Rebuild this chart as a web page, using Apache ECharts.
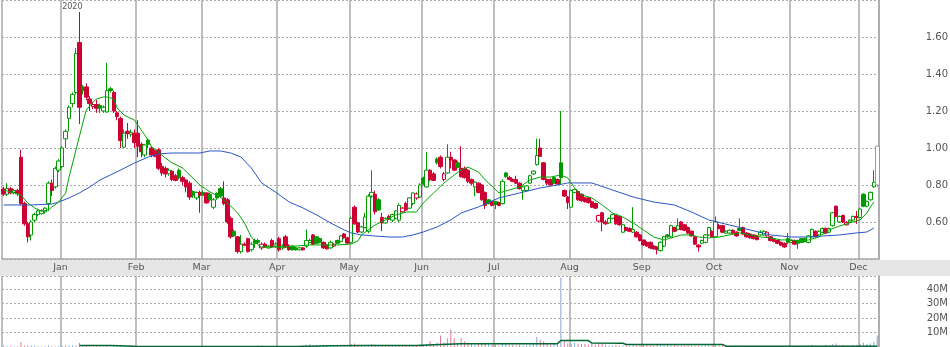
<!DOCTYPE html>
<html><head><meta charset="utf-8">
<script src="https://cdn.jsdelivr.net/npm/echarts@6/dist/echarts.min.js"></script>
<style>html,body{margin:0;padding:0;background:#fff}#c{width:950px;height:347px}</style>
</head><body><div id="c"></div>
<script>
// ---- data ----
const months = ['Dec','Jan','Feb','Mar','Apr','May','Jun','Jul','Aug','Sep','Oct','Nov','Dec'];
const monthDays = [17,22,19,22,21,21,21,22,21,21,22,20,6];
const yearLabels = ['','2020','','','','','','','','','','',''];
const priceTicks = [0.60,0.80,1.00,1.20,1.40,1.60];
const volumeTicks = [10,20,30,40];
// [open, close, low, high]
const ohlc = [
[0.778,0.751,0.74,0.79],[0.75,0.78,0.74,0.81],[0.78,0.757,0.75,0.79],[0.76,0.77,0.75,0.78],[0.77,0.755,0.74,0.78],
[0.95,0.70,0.69,0.99],[0.70,0.59,0.58,0.71],[0.59,0.52,0.49,0.60],[0.53,0.60,0.50,0.61],[0.61,0.64,0.60,0.65],
[0.64,0.66,0.63,0.67],[0.645,0.66,0.64,0.67],[0.655,0.675,0.645,0.68],[0.70,0.81,0.66,0.82],[0.81,0.77,0.74,0.83],
[0.79,0.89,0.78,0.90],[0.88,0.93,0.87,0.94],[0.90,1.00,0.89,1.01],[1.05,1.09,1.00,1.10],[1.16,1.22,1.09,1.23],
[1.24,1.29,1.22,1.30],[1.30,1.51,1.29,1.54],[1.57,1.22,1.13,1.735],[1.33,1.31,1.29,1.34],[1.33,1.275,1.26,1.35],
[1.265,1.24,1.20,1.28],[1.225,1.235,1.21,1.25],[1.235,1.215,1.19,1.26],[1.23,1.215,1.19,1.24],[1.20,1.22,1.19,1.23],
[1.195,1.31,1.19,1.46],[1.32,1.31,1.30,1.33],[1.30,1.20,1.19,1.31],[1.19,1.17,1.15,1.20],[1.16,1.04,1.00,1.17],
[1.005,1.08,1.00,1.10],[1.09,1.078,1.05,1.135],[1.075,1.085,1.06,1.10],[1.08,1.03,1.00,1.10],[1.08,1.01,0.95,1.15],
[1.02,0.98,0.95,1.03],[0.962,1.016,0.95,1.02],[1.043,1.02,1.00,1.05],[1.00,0.962,0.95,1.01],[0.985,0.955,0.95,0.99],
[0.99,0.89,0.88,1.00],[0.90,0.865,0.85,0.92],[0.89,0.86,0.84,0.90],[0.86,0.88,0.85,0.89],[0.875,0.83,0.82,0.88],
[0.85,0.825,0.82,0.86],[0.88,0.84,0.83,0.89],[0.84,0.82,0.80,0.85],[0.827,0.789,0.76,0.83],[0.81,0.735,0.72,0.82],
[0.765,0.745,0.73,0.77],[0.73,0.76,0.72,0.765],[0.76,0.745,0.65,0.77],[0.76,0.745,0.74,0.77],[0.757,0.703,0.70,0.76],
[0.75,0.72,0.71,0.76],[0.68,0.72,0.67,0.73],[0.755,0.73,0.72,0.76],[0.78,0.74,0.73,0.79],[0.73,0.70,0.69,0.82],
[0.72,0.60,0.59,0.73],[0.62,0.52,0.51,0.63],[0.55,0.525,0.52,0.56],[0.52,0.44,0.43,0.525],[0.44,0.48,0.43,0.53],
[0.48,0.475,0.47,0.49],[0.51,0.44,0.435,0.515],[0.45,0.48,0.44,0.49],[0.50,0.485,0.46,0.51],[0.50,0.49,0.48,0.51],
[0.46,0.48,0.45,0.49],[0.48,0.465,0.46,0.49],[0.46,0.47,0.455,0.475],[0.50,0.465,0.46,0.51],[0.47,0.48,0.46,0.49],
[0.51,0.45,0.44,0.52],[0.46,0.47,0.45,0.48],[0.52,0.465,0.46,0.53],[0.47,0.45,0.445,0.48],[0.47,0.45,0.445,0.475],
[0.46,0.45,0.445,0.465],[0.45,0.46,0.445,0.465],[0.46,0.45,0.445,0.465],[0.47,0.50,0.46,0.56],[0.49,0.50,0.485,0.51],
[0.53,0.48,0.475,0.535],[0.52,0.485,0.48,0.525],[0.51,0.49,0.485,0.515],[0.49,0.46,0.455,0.495],[0.475,0.455,0.45,0.48],
[0.46,0.49,0.455,0.50],[0.47,0.48,0.465,0.485],[0.50,0.485,0.48,0.505],[0.495,0.525,0.49,0.53],[0.535,0.515,0.51,0.54],
[0.515,0.486,0.48,0.52],[0.49,0.62,0.485,0.63],[0.68,0.59,0.585,0.69],[0.595,0.546,0.54,0.60],[0.546,0.573,0.54,0.58],
[0.57,0.627,0.565,0.65],[0.55,0.74,0.54,0.75],[0.74,0.76,0.73,0.88],[0.75,0.655,0.64,0.77],[0.72,0.665,0.66,0.73],
[0.625,0.595,0.55,0.65],[0.595,0.62,0.59,0.625],[0.63,0.615,0.61,0.64],[0.61,0.64,0.60,0.645],[0.62,0.66,0.615,0.665],
[0.61,0.69,0.60,0.70],[0.655,0.675,0.65,0.68],[0.70,0.665,0.66,0.71],[0.675,0.73,0.67,0.735],[0.70,0.757,0.69,0.76],
[0.73,0.752,0.72,0.76],[0.735,0.80,0.73,0.81],[0.838,0.805,0.80,0.845],[0.79,0.88,0.785,0.98],[0.88,0.83,0.82,0.885],
[0.86,0.825,0.82,0.87],[0.94,0.92,0.91,0.95],[0.95,0.90,0.89,0.96],[0.83,0.86,0.82,0.87],[0.865,0.95,0.86,1.02],
[0.95,0.935,0.89,0.98],[0.935,0.88,0.875,0.94],[0.92,0.895,0.89,0.93],[0.89,0.845,0.84,1.01],[0.89,0.84,0.835,0.90],
[0.88,0.82,0.81,0.885],[0.83,0.81,0.80,0.835],[0.79,0.815,0.74,0.82],[0.81,0.76,0.755,0.815],[0.80,0.72,0.715,0.805],
[0.76,0.69,0.67,0.765],[0.72,0.70,0.695,0.725],[0.71,0.69,0.685,0.715],[0.71,0.695,0.67,0.715],[0.705,0.69,0.685,0.71],
[0.70,0.82,0.695,0.83],[0.865,0.845,0.84,0.87],[0.84,0.83,0.825,0.85],[0.83,0.82,0.815,0.835],[0.83,0.81,0.805,0.85],
[0.81,0.78,0.775,0.815],[0.77,0.79,0.72,0.795],[0.77,0.795,0.765,0.80],[0.81,0.85,0.805,0.855],[0.86,0.875,0.855,0.88],
[0.91,0.96,0.905,1.05],[1.00,0.955,0.95,1.05],[0.92,0.83,0.825,0.925],[0.83,0.81,0.80,0.835],[0.83,0.80,0.795,0.835],
[0.84,0.81,0.805,0.845],[0.83,0.805,0.80,0.835],[0.92,0.84,0.80,1.20],[0.77,0.74,0.735,0.775],[0.735,0.705,0.67,0.74],
[0.68,0.77,0.675,0.775],[0.76,0.775,0.755,0.78],[0.765,0.72,0.715,0.77],[0.75,0.715,0.71,0.755],[0.73,0.71,0.705,0.735],
[0.73,0.705,0.70,0.735],[0.71,0.68,0.675,0.715],[0.70,0.675,0.67,0.705],[0.605,0.635,0.60,0.64],[0.65,0.60,0.55,0.655],
[0.60,0.59,0.585,0.61],[0.595,0.62,0.59,0.625],[0.62,0.64,0.615,0.645],[0.635,0.59,0.585,0.64],[0.63,0.585,0.58,0.635],
[0.545,0.585,0.54,0.59],[0.57,0.555,0.55,0.575],[0.565,0.55,0.545,0.57],[0.545,0.56,0.54,0.68],[0.545,0.52,0.515,0.55],
[0.53,0.50,0.495,0.535],[0.503,0.476,0.47,0.505],[0.49,0.47,0.465,0.495],[0.49,0.46,0.455,0.495],[0.47,0.455,0.45,0.475],
[0.465,0.45,0.425,0.47],[0.445,0.49,0.44,0.495],[0.47,0.52,0.465,0.525],[0.53,0.52,0.515,0.535],[0.52,0.58,0.515,0.585],
[0.57,0.55,0.545,0.575],[0.56,0.58,0.555,0.62],[0.60,0.56,0.555,0.605],[0.585,0.555,0.55,0.59],[0.57,0.54,0.535,0.575],
[0.55,0.525,0.52,0.555],[0.52,0.48,0.475,0.525],[0.475,0.465,0.44,0.48],[0.485,0.50,0.48,0.505],[0.49,0.53,0.485,0.535],
[0.53,0.57,0.525,0.575],[0.55,0.52,0.515,0.555],[0.52,0.60,0.515,0.63],[0.58,0.565,0.56,0.59],[0.58,0.545,0.54,0.585],
[0.54,0.55,0.535,0.555],[0.54,0.555,0.535,0.56],[0.555,0.54,0.535,0.56],[0.545,0.525,0.52,0.55],[0.565,0.555,0.55,0.62],
[0.57,0.535,0.53,0.575],[0.54,0.52,0.515,0.545],[0.535,0.515,0.51,0.54],[0.53,0.51,0.505,0.535],[0.525,0.505,0.50,0.53],
[0.53,0.545,0.525,0.555],[0.53,0.55,0.525,0.555],[0.525,0.545,0.52,0.55],[0.52,0.50,0.495,0.525],[0.505,0.495,0.49,0.51],
[0.50,0.485,0.48,0.505],[0.49,0.475,0.47,0.495],[0.485,0.465,0.46,0.49],[0.51,0.49,0.48,0.54],[0.49,0.50,0.485,0.505],
[0.50,0.48,0.475,0.505],[0.50,0.485,0.455,0.505],[0.51,0.49,0.485,0.515],[0.51,0.495,0.49,0.515],[0.49,0.525,0.485,0.53],
[0.52,0.56,0.515,0.565],[0.55,0.52,0.515,0.555],[0.53,0.55,0.525,0.555],[0.545,0.565,0.54,0.57],[0.565,0.54,0.535,0.57],
[0.545,0.565,0.54,0.57],[0.58,0.65,0.575,0.655],[0.685,0.63,0.625,0.69],[0.60,0.63,0.595,0.635],[0.635,0.60,0.595,0.64],
[0.585,0.598,0.58,0.605],[0.60,0.61,0.595,0.615],[0.61,0.63,0.605,0.635],[0.63,0.625,0.59,0.66],[0.625,0.67,0.62,0.675],
[0.75,0.685,0.68,0.755],[0.686,0.71,0.68,0.715],[0.72,0.76,0.715,0.765],[0.79,0.815,0.785,0.88],[0.80,1.01,0.79,1.01]
];
// volume in millions
const volume = [
0.8,0.5,0.6,0.4,0.6,3.5,1.0,1.0,1.0,0.8,0.5,0.4,0.5,1.0,0.5,0.4,0.6,
1.0,1.0,1.0,1.0,1.0,3.0,1.2,0.8,0.6,0.4,0.5,0.4,0.4,0.8,0.4,0.5,0.4,0.5,0.3,0.3,0.3,0.3,
0.3,0.3,0.3,0.3,0.3,0.3,0.4,0.3,0.3,0.3,0.3,0.3,0.3,0.3,0.3,0.3,0.3,0.3,0.3,0.3,
0.3,0.3,0.3,0.3,0.3,0.3,0.4,0.3,0.3,0.3,0.3,0.3,0.3,0.3,0.3,1.0,1.0,0.3,0.3,0.3,0.3,
0.3,0.3,0.3,0.3,0.3,0.3,0.3,1.2,1.5,2.0,1.2,1.0,1.0,1.2,0.8,0.5,0.5,0.5,0.4,0.4,0.5,2.0,
2.5,1.0,0.8,1.0,1.5,2.0,1.5,1.0,1.0,0.8,0.8,0.8,1.0,1.2,0.8,0.8,1.0,1.0,0.8,1.2,
1.5,2.0,4.0,2.0,3.0,8.0,3.0,6.0,12.0,6.0,3.0,6.0,4.0,2.5,2.0,1.5,3.0,2.0,3.0,2.0,1.5,1.5,
1.0,2.0,3.0,1.5,1.5,1.0,1.5,1.0,1.0,1.5,2.0,7.0,5.0,4.0,2.0,1.5,2.0,2.0,48.0,4.0,2.5,2.0,
3.0,2.5,2.0,2.0,1.5,2.0,1.5,2.5,2.0,1.5,1.0,1.0,1.5,1.0,1.0,1.0,0.8,2.0,1.0,1.0,1.5,
1.5,1.0,1.0,1.5,1.5,1.0,1.5,1.0,1.0,1.0,1.0,0.8,1.0,1.0,0.8,0.8,1.0,1.0,1.0,0.8,1.0,
0.8,0.8,0.6,0.6,0.6,0.6,1.0,0.6,0.6,0.6,0.6,0.6,0.6,0.6,0.6,0.6,0.6,0.6,0.6,0.6,0.8,0.6,
0.6,0.6,0.8,1.0,1.0,1.5,1.0,1.0,1.0,1.5,1.0,2.0,2.5,1.0,1.5,1.0,1.0,1.5,1.5,2.0,
3.0,2.0,2.5,3.5,8.0
];
// moving averages: [candle index, value]
const maShort = [[0,0.773],[5,0.746],[7,0.703],[9,0.676],[11,0.659],[13,0.665],[14,0.681],[16,0.708],[18,0.757],[19,0.843],[21,0.989],[23,1.135],[24,1.205],[26,1.249],[27,1.265],[29,1.276],[30,1.276],[32,1.265],[33,1.216],[35,1.178],[38,1.151],[40,1.097],[42,1.043],[43,1.005],[45,0.978],[47,0.946],[49,0.919],[52,0.892],[55,0.838],[57,0.80],[60,0.762],[63,0.735],[66,0.686],[68,0.649],[70,0.595],[72,0.519],[74,0.476],[75,0.465],[78,0.465],[81,0.465],[85,0.470],[89,0.476],[93,0.476],[97,0.476],[101,0.481],[103,0.497],[104,0.530],[106,0.557],[108,0.584],[111,0.611],[114,0.638],[117,0.654],[120,0.654],[122,0.703],[125,0.757],[128,0.811],[131,0.854],[133,0.881],[135,0.897],[138,0.870],[140,0.827],[141,0.811],[144,0.757],[147,0.773],[150,0.789],[153,0.827],[156,0.843],[159,0.843],[162,0.854],[164,0.838],[166,0.784],[168,0.746],[171,0.730],[174,0.692],[177,0.649],[180,0.627],[183,0.595],[186,0.557],[189,0.519],[192,0.503],[195,0.519],[197,0.530],[200,0.530],[202,0.519],[205,0.514],[208,0.519],[211,0.530],[214,0.541],[217,0.530],[220,0.519],[223,0.514],[226,0.503],[229,0.503],[231,0.497],[234,0.503],[237,0.519],[240,0.557],[243,0.578],[246,0.595],[249,0.611],[251,0.649],[252,0.681],[253,0.708]];
const maLong = [[0,0.692],[8,0.692],[14,0.697],[16,0.708],[19,0.730],[22,0.757],[25,0.789],[28,0.827],[31,0.854],[34,0.881],[38,0.919],[42,0.951],[45,0.968],[49,0.973],[53,0.973],[57,0.973],[60,0.984],[63,0.984],[66,0.973],[69,0.951],[72,0.892],[75,0.811],[79,0.762],[83,0.708],[87,0.676],[91,0.638],[95,0.595],[99,0.557],[101,0.541],[104,0.530],[108,0.524],[112,0.519],[116,0.519],[119,0.530],[122,0.546],[126,0.573],[130,0.611],[133,0.649],[138,0.681],[144,0.730],[150,0.757],[156,0.784],[161,0.800],[164,0.811],[171,0.811],[177,0.773],[183,0.735],[189,0.708],[195,0.692],[200,0.654],[205,0.611],[211,0.584],[217,0.557],[223,0.530],[229,0.519],[234,0.519],[238,0.524],[243,0.530],[248,0.541],[251,0.546],[253,0.568]];
const volumeMA = [[22,1.0],[31,1.0],[38,0.5],[45,0.3],[85,0.3],[95,0.9],[105,1.1],[120,1.1],[125,1.5],[133,2.2],[153,2.2],[161,2.3],[162,4.5],[170,4.4],[171,2.7],[180,2.6],[181,1.7],[209,1.7],[210,0.6],[254,0.6]];

// ---- build ----
const cats = [], splitIdx = new Set(), labelIdx = new Set(), yearIdx = {};
months.forEach((m, mi) => {
  splitIdx.add(cats.length);
  if (mi > 0) labelIdx.add(cats.length);
  if (yearLabels[mi]) yearIdx[cats.length] = yearLabels[mi];
  for (let k = 0; k < monthDays[mi]; k++) cats.push(m + '|' + mi + '|' + k);
});
const UP = '#009a00', DN = '#cc0033', GREY = '#9a9a9a';
const dirColor = (i) => {
  if (i === ohlc.length - 1) return GREY;
  const prev = i ? ohlc[i-1][1] : ohlc[i][0];
  return ohlc[i][1] >= prev ? UP : DN;
};
const candleData = ohlc.map((d, i) => {
  const col = dirColor(i);
  const fill = d[1] >= d[0] ? '#ffffff' : col;
  return { value: d, itemStyle: { color: fill, color0: fill, borderColor: col, borderColor0: col } };
});
const volData = volume.map((v, i) => {
  const c = dirColor(i);
  return { value: v, itemStyle: { color: c === DN ? '#e07a98' : '#7fa6d6' } };
});

const FONT = 'DejaVu Sans';
const vLine = { show: true, interval: (i) => splitIdx.has(i), lineStyle: { color: '#a8a8a8', width: 1.5 } };
const hLine = { show: true, lineStyle: { color: '#ababab', type: [2, 2], width: 1 } };

const chart = echarts.init(document.getElementById('c'), null, { renderer: 'canvas' });
chart.setOption({
  animation: false,
  backgroundColor: '#fff',
  graphic: [{ type: 'rect', z: -10, shape: { x: 0, y: 260, width: 950, height: 16 }, style: { fill: '#e6e6e6' } }],
  grid: [
    { left: 2, right: 71, top: 0, height: 259, outerBoundsMode: 'none' },
    { left: 2, right: 71, top: 276, height: 71, outerBoundsMode: 'none' }
  ],
  xAxis: [
    { type: 'category', gridIndex: 0, data: cats, boundaryGap: true,
      axisLine: { show: true, lineStyle: { color: '#a8a8a8', width: 1.5 } }, axisTick: { show: false },
      axisLabel: { show: true, interval: (i) => labelIdx.has(i), formatter: (v) => v.split('|')[0],
        margin: 4, fontSize: 9.5, fontFamily: FONT, color: '#555', hideOverlap: false, padding: [0, 3.4, 0, 0] },
      splitLine: vLine },
    { type: 'category', gridIndex: 1, data: cats, boundaryGap: true,
      axisLine: { show: false }, axisTick: { show: false }, axisLabel: { show: false },
      splitLine: vLine },
    { type: 'category', gridIndex: 0, data: cats, boundaryGap: true, position: 'top',
      axisLine: { show: false }, axisTick: { show: false }, splitLine: { show: false },
      axisLabel: { show: true, inside: true, interval: (i) => yearIdx[i] !== undefined,
        formatter: (v, i) => yearIdx[i] || '', margin: 3, fontSize: 8, fontFamily: FONT, color: '#555', align: 'left' } }
  ],
  yAxis: [
    { type: 'value', gridIndex: 0, position: 'right', min: 0.4, max: 1.8, interval: 0.2,
      axisLine: { show: true, lineStyle: { color: '#a8a8a8', width: 1.5 } }, axisTick: { show: false },
      axisLabel: { showMinLabel: false, showMaxLabel: false, align: 'right', margin: 69, fontSize: 10, fontFamily: FONT, color: '#555',
        formatter: (v) => priceTicks.some(t => Math.abs(t - v) < 1e-6) ? v.toFixed(2) : '' },
      splitLine: hLine },
    { type: 'value', gridIndex: 1, position: 'right', min: 0, max: 49, interval: 10,
      axisLine: { show: true, lineStyle: { color: '#a8a8a8', width: 1.5 } }, axisTick: { show: false },
      axisLabel: { showMinLabel: false, showMaxLabel: false, align: 'right', margin: 69, fontSize: 10, fontFamily: FONT, color: '#555',
        formatter: (v) => volumeTicks.includes(v) ? v + 'M' : '' },
      splitLine: hLine }
  ],
  series: [
    { type: 'candlestick', xAxisIndex: 0, yAxisIndex: 0, data: candleData, barWidth: 4, z: 2,
      itemStyle: { borderWidth: 1 } },
    { type: 'line', xAxisIndex: 0, yAxisIndex: 0, data: maLong, symbol: 'none', z: 3,
      lineStyle: { color: '#2a56c6', width: 1 } },
    { type: 'line', xAxisIndex: 0, yAxisIndex: 0, data: maShort, symbol: 'none', z: 4,
      lineStyle: { color: '#00a800', width: 1 } },
    { type: 'bar', xAxisIndex: 1, yAxisIndex: 1, data: volData, barWidth: 1, z: 2 },
    { type: 'line', xAxisIndex: 1, yAxisIndex: 1, data: volumeMA, symbol: 'none', z: 3,
      lineStyle: { color: '#006633', width: 1.5 } }
  ]
});
</script></body></html>
